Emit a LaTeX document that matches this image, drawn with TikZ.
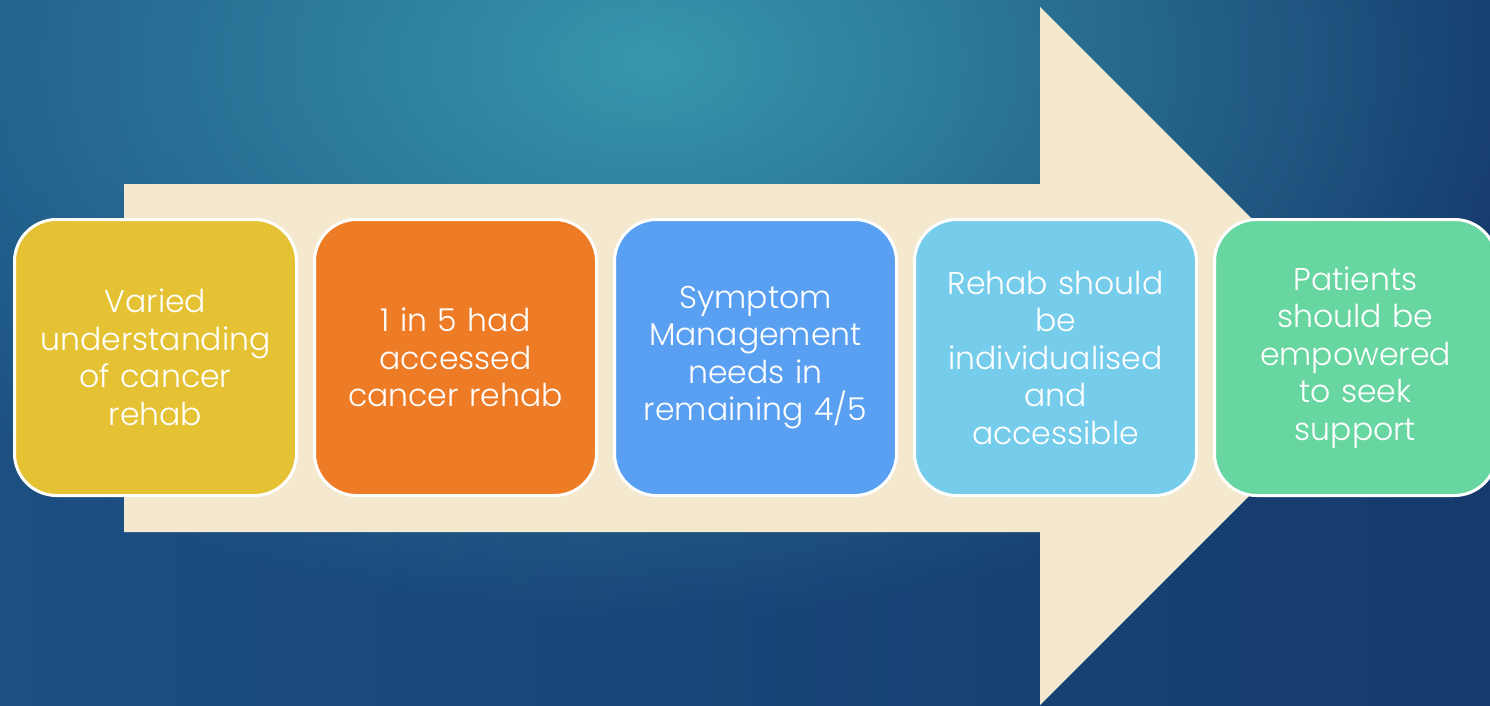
\documentclass[tikz,border=0pt]{standalone}
\usepackage{fontspec}
\setmainfont{Poppins Light}
\usepackage{tikz}
\usetikzlibrary{positioning,fadings}

\definecolor{bgdark}{HTML}{1C4F82}
\definecolor{bgnavy}{HTML}{163A6C}
\definecolor{bgglow}{HTML}{3797AE}
\definecolor{cream}{HTML}{F4E9CF}
\definecolor{stepyellow}{HTML}{E5C233}
\definecolor{steporange}{HTML}{EE7B25}
\definecolor{stepblue}{HTML}{5AA0F2}
\definecolor{stepsky}{HTML}{76CDEB}
\definecolor{stepgreen}{HTML}{67D6A0}

\tikzfading[name=glowfade, inner color=transparent!0, outer color=transparent!100]

\tikzset{
  stepbox/.style={draw=white, line width=3pt, rounded corners=42pt,
    minimum width=282pt, minimum height=276pt, text width=270pt,
    align=center, text=white, font=\fontsize{31.5}{37.5}\selectfont,
    inner sep=0pt}
}

\begin{document}
\begin{tikzpicture}[x=1pt,y=-1pt]
    \useasboundingbox (0,0) rectangle (1490,706);
    \begin{scope}
    \clip (0,0) rectangle (1490,706);
    % background
    \shade[left color=bgdark, right color=bgnavy] (0,0) rectangle (1490,706);
    \fill[bgglow, path fading=glowfade] (650,60) ellipse (900 and 560);
    % big arrow
    \fill[cream] (124,184) -- (1040,184) -- (1040,7) -- (1389,356)
      -- (1040,705) -- (1040,532) -- (124,532) -- cycle;
    % steps
    \node[stepbox, fill=stepyellow] (varied) at (155.5,357.5)
      {Varied\\understanding\\of cancer\\rehab};
    \node[stepbox, fill=steporange, right=15pt of varied] (accessed)
      {1 in 5 had\\accessed\\cancer rehab};
    \node[stepbox, fill=stepblue, right=15pt of accessed] (symptom)
      {Symptom\\Management\\needs in\\remaining 4/5};
    \node[stepbox, fill=stepsky, right=15pt of symptom] (individual)
      {Rehab should\\be\\individualised\\and\\accessible};
    \node[stepbox, fill=stepgreen, right=15pt of individual] (empower)
      {Patients\\should be\\empowered\\to seek\\support};
    \end{scope}
  \end{tikzpicture}
\end{document}
